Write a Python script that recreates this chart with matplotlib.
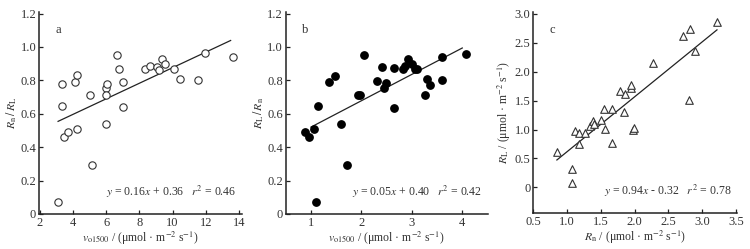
import numpy as np
import matplotlib.pyplot as plt

plt.rcParams['font.family'] = ['Liberation Serif', 'DejaVu Serif']
plt.rcParams['mathtext.fontset'] = 'stix'
plt.rcParams['font.size'] = 8

# panel a: v_o1500 vs Rn/RL
a_x = [3.07, 3.31, 3.31, 3.47, 3.71, 4.09, 4.25, 4.25, 5.02, 5.12, 5.99, 5.99, 6.03, 5.99,
       6.67, 6.77, 6.99, 7.03, 8.32, 8.66, 9.05, 9.19, 9.39, 9.55, 10.09, 10.42, 11.56, 11.93, 13.62]
a_y = [0.074, 0.776, 0.647, 0.46, 0.49, 0.79, 0.83, 0.51, 0.71, 0.29, 0.54, 0.754, 0.78, 0.712,
       0.955, 0.87, 0.79, 0.64, 0.87, 0.888, 0.88, 0.864, 0.93, 0.897, 0.868, 0.806, 0.80, 0.963, 0.94]
a_fit = (0.0466, 0.41)
a_fit_x = (3.1, 13.5)

# panel b
b_x = [0.88, 0.97, 1.06, 1.09, 1.14, 1.36, 1.47, 1.60, 1.71, 1.94, 1.98, 2.05, 2.31, 2.41, 2.45,
       2.49, 2.64, 2.65, 2.82, 2.86, 2.92, 3.00, 3.07, 3.10, 3.26, 3.30, 3.36, 3.59, 3.60, 4.07]
b_y = [0.49, 0.46, 0.51, 0.074, 0.647, 0.79, 0.826, 0.54, 0.29, 0.71, 0.71, 0.955, 0.794, 0.88, 0.752,
       0.782, 0.637, 0.872, 0.866, 0.888, 0.927, 0.90, 0.87, 0.866, 0.71, 0.806, 0.774, 0.802, 0.941, 0.961]
b_fit = (0.158, 0.362)
b_fit_x = (1.0, 4.0)

# panel c
c_x = [0.85, 1.07, 1.07, 1.12, 1.18, 1.18, 1.26, 1.34, 1.38, 1.40, 1.50, 1.55, 1.56, 1.66,
       1.67, 1.79, 1.84, 1.86, 1.94, 1.95, 1.98, 1.99, 2.27, 2.72, 2.82, 2.81, 2.90, 3.22]
c_y = [0.617, 0.32, 0.08, 0.98, 0.94, 0.754, 0.94, 1.06, 1.14, 1.09, 1.17, 1.35, 1.01, 1.35,
       0.77, 1.67, 1.31, 1.61, 1.71, 1.76, 0.99, 1.02, 2.14, 2.61, 2.73, 1.51, 2.35, 2.85]
c_fit = (0.948, -0.332)
c_fit_x = (0.85, 3.22)

txt = '#333333'
fig = plt.figure(figsize=(7.5, 2.49), dpi=100)
ax_a = fig.add_axes([0.052, 0.141, 0.271, 0.811])
ax_b = fig.add_axes([0.381, 0.141, 0.269, 0.811])
ax_c = fig.add_axes([0.711, 0.145, 0.272, 0.807])


def style(ax):
    for s in ['top', 'right']:
        ax.spines[s].set_visible(False)
    for s in ['left', 'bottom']:
        ax.spines[s].set_linewidth(1.1)
        ax.spines[s].set_color('#222222')
    ax.tick_params(direction='in', length=3, width=0.9, colors='#222222',
                   labelcolor=txt, labelsize=9, pad=2)


def fit_line(ax, fit, xr):
    xs = np.array(xr)
    ax.plot(xs, fit[0] * xs + fit[1], color='#222222', lw=0.9)


# a
ax_a.scatter(a_x, a_y, s=28, facecolors='white', edgecolors='#333333', linewidths=0.8, zorder=3)
fit_line(ax_a, a_fit, a_fit_x)
ax_a.set_xlim(1.95, 14.2)
ax_a.set_ylim(0, 1.21)
ax_a.set_xticks([2, 4, 6, 8, 10, 12, 14])
ax_a.set_yticks([0, 0.2, 0.4, 0.6, 0.8, 1.0, 1.2])
ax_a.set_yticklabels(['0', '0.2', '0.4', '0.6', '0.8', '1.0', '1.2'])
ax_a.set_xlabel(r'$v_{\rm o1500}$ / (μmol · m$^{-2}$ s$^{-1}$)', color=txt, fontsize=8.5, labelpad=1)
ax_a.set_ylabel(r'$R_{\rm n}\,/\,R_{\rm L}$', color=txt, fontsize=8.5, labelpad=1)
ax_a.text(0.08, 0.94, 'a', transform=ax_a.transAxes, color=txt, fontsize=9, va='top')
ax_a.text(0.97, 0.07, r'$y$ = 0.16$x$ + 0.36   $r^2$ = 0.46', transform=ax_a.transAxes,
          ha='right', va='bottom', color=txt, fontsize=8.5)
style(ax_a)

# b
ax_b.scatter(b_x, b_y, s=28, color='black', zorder=3)
fit_line(ax_b, b_fit, b_fit_x)
ax_b.set_xlim(0.5, 4.5)
ax_b.set_ylim(0, 1.21)
ax_b.set_xticks([1, 2, 3, 4])
ax_b.set_yticks([0, 0.2, 0.4, 0.6, 0.8, 1.0, 1.2])
ax_b.set_yticklabels(['0', '0.2', '0.4', '0.6', '0.8', '1.0', '1.2'])
ax_b.set_xlabel(r'$v_{\rm o1500}$ / (μmol · m$^{-2}$ s$^{-1}$)', color=txt, fontsize=8.5, labelpad=1)
ax_b.set_ylabel(r'$R_{\rm L}\,/\,R_{\rm n}$', color=txt, fontsize=8.5, labelpad=1)
ax_b.text(0.08, 0.94, 'b', transform=ax_b.transAxes, color=txt, fontsize=9, va='top')
ax_b.text(0.97, 0.07, r'$y$ = 0.05$x$ + 0.40   $r^2$ = 0.42', transform=ax_b.transAxes,
          ha='right', va='bottom', color=txt, fontsize=8.5)
style(ax_b)

# c
ax_c.scatter(c_x, c_y, s=30, marker='^', facecolors='white', edgecolors='#333333',
             linewidths=0.8, zorder=3)
fit_line(ax_c, c_fit, c_fit_x)
ax_c.set_xlim(0.5, 3.52)
ax_c.set_ylim(-0.44, 3.03)
ax_c.set_xticks([0.5, 1.0, 1.5, 2.0, 2.5, 3.0, 3.5])
ax_c.set_yticks([0, 0.5, 1.0, 1.5, 2.0, 2.5, 3.0])
ax_c.set_yticklabels(['0', '0.5', '1.0', '1.5', '2.0', '2.5', '3.0'])
ax_c.set_xlabel(r'$R_{\rm n}$ / (μmol · m$^{-2}$ s$^{-1}$)', color=txt, fontsize=8.5, labelpad=1)
ax_c.set_ylabel(r'$R_{\rm L}$ / (μmol · m$^{-2}$ s$^{-1}$)', color=txt, fontsize=8.5, labelpad=1)
ax_c.text(0.08, 0.94, 'c', transform=ax_c.transAxes, color=txt, fontsize=9, va='top')
ax_c.text(0.97, 0.07, r'$y$ = 0.94$x$ - 0.32   $r^2$ = 0.78', transform=ax_c.transAxes,
          ha='right', va='bottom', color=txt, fontsize=8.5)
style(ax_c)

fig.savefig('out.png', dpi=100)
